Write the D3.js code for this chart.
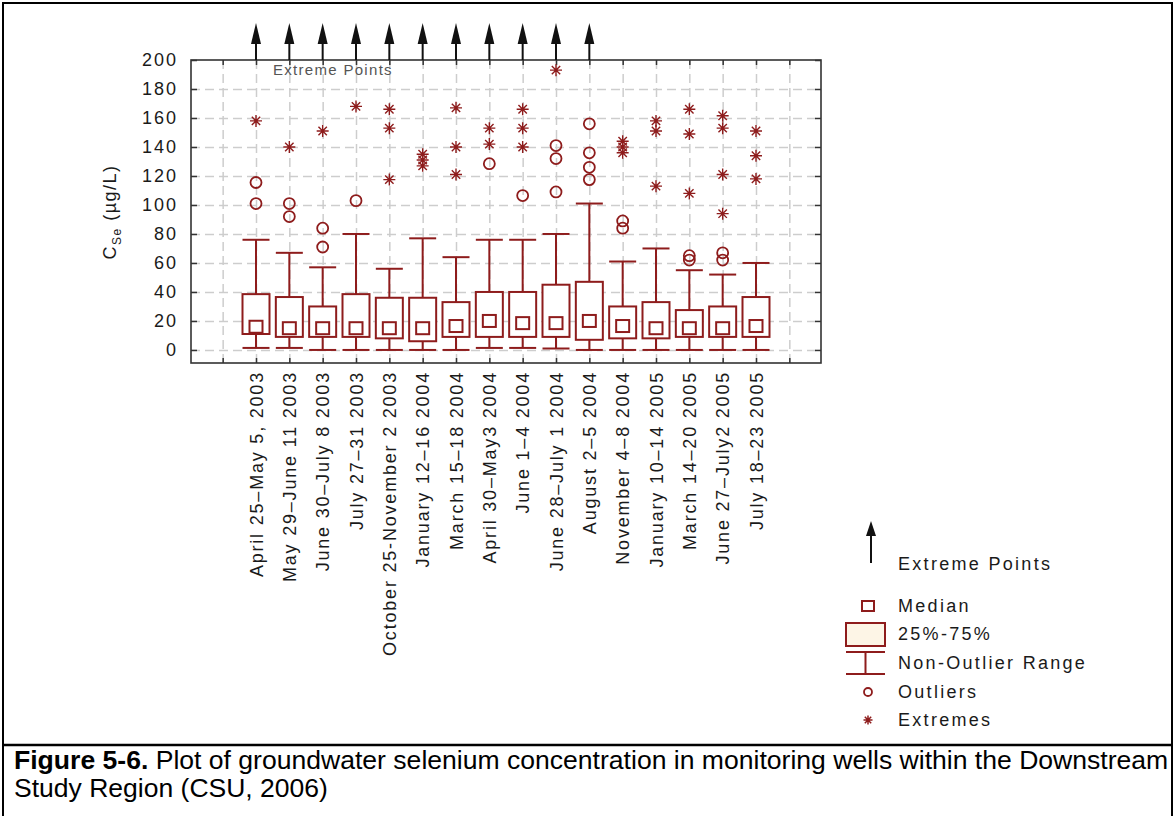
<!DOCTYPE html>
<html>
<head>
<meta charset="utf-8">
<script src="https://cdn.jsdelivr.net/npm/d3@7"></script>
<style>
  body { margin: 0; background: #fff; }
  text { font-family: "Liberation Sans", Arial, sans-serif; }
</style>
</head>
<body>
<script>
// sampling periods (x categories)
var categories = [
  "April 25–May 5, 2003", "May 29–June 11 2003", "June 30–July 8 2003",
  "July 27–31 2003", "October 25-November 2 2003", "January 12–16 2004",
  "March 15–18 2004", "April 30–May3 2004", "June 1–4 2004",
  "June 28–July 1 2004", "August 2–5 2004", "November 4–8 2004",
  "January 10–14 2005", "March 14–20 2005", "June 27–July2 2005",
  "July 18–23 2005"
];

// box plot statistics, Se in ug/L
var whiskerLow  = [1.4, 1.4, 0, 0, 0, 0, 0, 1.4, 1.4, 1, 0, 0, 0, 0, 0, 0];
var q1          = [11, 9, 9, 9, 8, 6, 9, 9, 9, 9, 7, 8, 8, 9, 9, 9];
var median      = [16, 15, 15, 15, 15, 15, 16.5, 20, 18.5, 18.5, 20, 16.5, 15, 15, 15, 16.5];
var q3          = [38.5, 36.5, 30, 38.5, 36, 36, 33, 40, 40, 45, 47, 30, 33, 27.5, 30, 36.5];
var whiskerHigh = [76, 67, 57, 80, 56, 77, 64, 76, 76, 80, 101, 61, 70, 55, 52, 60];

var outliers = [
  [115.5, 101], [101, 92], [84, 71], [103], [], [], [], [128.5], [106.5],
  [141, 132, 109], [156, 136, 126, 117.5], [89, 84], [], [65, 62], [67, 62], []
];
var extremes = [
  [158], [140], [151], [168], [166, 153, 117.5], [135, 131, 127],
  [167, 140, 121], [153, 142], [166, 153, 140], [193], [], [144, 140, 136],
  [158, 151, 113], [166, 149, 108], [161.5, 153, 121, 94], [151, 134, 118]
];
// periods with points beyond the top of the axis
var offScale = [1, 1, 1, 1, 1, 1, 1, 1, 1, 1, 1, 0, 0, 0, 0, 0];

var yTicks = [0, 20, 40, 60, 80, 100, 120, 140, 160, 180, 200];
var legendLabels = ["Extreme Points", "Median", "25%-75%", "Non-Outlier Range", "Outliers", "Extremes"];
var captionBold = "Figure 5-6.";
var captionRest = " Plot of groundwater selenium concentration in monitoring wells within the Downstream";
var captionLine2 = "Study Region (CSU, 2006)";

var width = 1175, height = 816;
var red = "#8e1c1c";
var plot = {left: 191, right: 821, top: 60, bottom: 363};
var boxW = 27;

var svg = d3.select("body").append("svg")
    .attr("width", width)
    .attr("height", height);

// outer figure border + caption rule
svg.append("rect")
    .attr("x", 3).attr("y", 3).attr("width", 1169).attr("height", 840)
    .attr("fill", "none").attr("stroke", "#000").attr("stroke-width", 2);
svg.append("line")
    .attr("x1", 3).attr("x2", 1172).attr("y1", 745).attr("y2", 745)
    .attr("stroke", "#000").attr("stroke-width", 2.5);

var x = d3.scaleLinear().domain([-0.95, 17.95]).range([plot.left, plot.right]);
var y = d3.scaleLinear().domain([-9, 200]).range([plot.bottom, plot.top]);
var slots = d3.range(18);

// dashed grid
svg.append("g")
    .attr("transform", "translate(" + plot.left + ",0)")
    .call(d3.axisLeft(y).tickValues(yTicks.slice(0, -1)).tickSize(-(plot.right - plot.left)).tickFormat(""))
    .call(function(g) { g.select(".domain").remove(); })
    .selectAll("line")
    .attr("stroke", "#cdcdcd").attr("stroke-width", 1.5).attr("stroke-dasharray", "9,5");

svg.append("g")
    .attr("transform", "translate(0," + plot.bottom + ")")
    .call(d3.axisBottom(x).tickValues(slots).tickSize(-(plot.bottom - plot.top)).tickFormat(""))
    .call(function(g) { g.select(".domain").remove(); })
    .selectAll("line")
    .attr("stroke", "#cdcdcd").attr("stroke-width", 1.5).attr("stroke-dasharray", "9,5");

// frame
svg.append("rect")
    .attr("x", plot.left).attr("y", plot.top)
    .attr("width", plot.right - plot.left).attr("height", plot.bottom - plot.top)
    .attr("fill", "none").attr("stroke", "#333").attr("stroke-width", 1.6);

// inward ticks on all four sides
var yAxis = svg.append("g")
    .attr("transform", "translate(" + plot.left + ",0)")
    .call(d3.axisLeft(y).tickValues(yTicks).tickSizeInner(-6).tickSizeOuter(0).tickPadding(13));
yAxis.select(".domain").remove();
yAxis.selectAll("line").attr("stroke", "#333").attr("stroke-width", 1.5);
yAxis.selectAll("text")
    .attr("font-size", 18).attr("fill", "#1a1a1a")
    .style("letter-spacing", "2px");

var rAxis = svg.append("g")
    .attr("transform", "translate(" + plot.right + ",0)")
    .call(d3.axisRight(y).tickValues(yTicks).tickSizeInner(-6).tickSizeOuter(0).tickFormat(""));
rAxis.select(".domain").remove();
rAxis.selectAll("line").attr("stroke", "#333").attr("stroke-width", 1.5);

var tAxis = svg.append("g")
    .attr("transform", "translate(0," + plot.top + ")")
    .call(d3.axisTop(x).tickValues(slots).tickSizeInner(-5).tickSizeOuter(0).tickFormat(""));
tAxis.select(".domain").remove();
tAxis.selectAll("line").attr("stroke", "#333").attr("stroke-width", 1.5);

var xAxis = svg.append("g")
    .attr("transform", "translate(0," + plot.bottom + ")")
    .call(d3.axisBottom(x).tickValues(slots).tickSizeInner(-5).tickSizeOuter(0)
      .tickFormat(function(i) { return categories[i - 1] || ""; }));
xAxis.select(".domain").remove();
xAxis.selectAll("line").attr("stroke", "#333").attr("stroke-width", 1.5);
xAxis.selectAll("text")
    .attr("transform", "rotate(-90)")
    .attr("text-anchor", "end")
    .attr("x", -8).attr("y", 0).attr("dy", "0.35em")
    .attr("font-size", 18).attr("fill", "#1a1a1a")
    .style("letter-spacing", "1.8px");

// y title
var yTitle = svg.append("text")
    .attr("transform", "translate(116,212) rotate(-90)")
    .attr("text-anchor", "middle")
    .attr("font-size", 18).attr("fill", "#1a1a1a")
    .style("letter-spacing", "1.5px");
yTitle.append("tspan").text("C");
yTitle.append("tspan").attr("dy", 5).attr("font-size", 12).text("Se");
yTitle.append("tspan").attr("dy", -5).text(" (µg/L)");

// boxes
var box = svg.append("g").selectAll("g")
    .data(categories)
  .enter().append("g")
    .attr("transform", function(d, i) { return "translate(" + x(i + 1) + ",0)"; })
    .attr("stroke", red).attr("stroke-width", 2).attr("fill", "none");

box.append("line")
    .attr("y1", function(d, i) { return y(whiskerLow[i]); })
    .attr("y2", function(d, i) { return y(q1[i]); });
box.append("line")
    .attr("y1", function(d, i) { return y(q3[i]); })
    .attr("y2", function(d, i) { return y(whiskerHigh[i]); });
box.append("line")
    .attr("x1", -boxW / 2).attr("x2", boxW / 2)
    .attr("y1", function(d, i) { return y(whiskerLow[i]); })
    .attr("y2", function(d, i) { return y(whiskerLow[i]); });
box.append("line")
    .attr("x1", -boxW / 2).attr("x2", boxW / 2)
    .attr("y1", function(d, i) { return y(whiskerHigh[i]); })
    .attr("y2", function(d, i) { return y(whiskerHigh[i]); });
box.append("rect")
    .attr("x", -boxW / 2).attr("width", boxW)
    .attr("y", function(d, i) { return y(q3[i]); })
    .attr("height", function(d, i) { return y(q1[i]) - y(q3[i]); })
    .attr("fill", "#fff");
box.append("rect")
    .attr("x", -6.5).attr("width", 13)
    .attr("y", function(d, i) { return y(median[i]) - 6; })
    .attr("height", 12)
    .attr("fill", "#fff");

box.selectAll("circle")
    .data(function(d, i) { return outliers[i]; })
  .enter().append("circle")
    .attr("cy", function(v) { return y(v); })
    .attr("r", 5.5)
    .attr("stroke-width", 1.8);

var star = "M-6,0H6M0,-6V6M-4.2,-4.2L4.2,4.2M-4.2,4.2L4.2,-4.2";
var starSmall = "M-4.5,0H4.5M0,-4.5V4.5M-3.2,-3.2L3.2,3.2M-3.2,3.2L3.2,-3.2";
box.selectAll("path.ext")
    .data(function(d, i) { return extremes[i]; })
  .enter().append("path")
    .attr("class", "ext")
    .attr("d", star)
    .attr("transform", function(v) { return "translate(0," + y(v) + ")"; })
    .attr("stroke-width", 1.4);

// arrows for values beyond the axis
function arrow(g, cx, tip, base, tail) {
  g.append("line")
      .attr("x1", cx).attr("x2", cx).attr("y1", tail).attr("y2", base - 2)
      .attr("stroke", "#111").attr("stroke-width", 2);
  g.append("path")
      .attr("d", "M" + cx + "," + tip + "L" + (cx - 5) + "," + base + "L" + (cx + 5) + "," + base + "Z")
      .attr("fill", "#111");
}
var arrows = svg.append("g");
categories.forEach(function(d, i) {
  if (offScale[i]) arrow(arrows, x(i + 1), 23, 44, plot.top);
});

svg.append("text")
    .attr("x", 273).attr("y", 75)
    .attr("font-size", 15).attr("fill", "#555")
    .style("letter-spacing", "1.3px")
    .text(legendLabels[0]);

// legend
var lg = svg.append("g");
arrow(lg, 871, 521, 536, 563);
var legendY = [564, 606, 634, 663, 692, 720];
lg.selectAll("text")
    .data(legendLabels)
  .enter().append("text")
    .attr("x", 898)
    .attr("y", function(d, i) { return legendY[i] + 6; })
    .attr("font-size", 18).attr("fill", "#1a1a1a")
    .style("letter-spacing", "2.3px")
    .text(function(d) { return d; });

lg.append("rect")
    .attr("x", 862).attr("y", 601).attr("width", 12).attr("height", 10)
    .attr("fill", "#fff").attr("stroke", red).attr("stroke-width", 2);
lg.append("rect")
    .attr("x", 846).attr("y", 623).attr("width", 39).attr("height", 23)
    .attr("fill", "#fdf5e6").attr("stroke", red).attr("stroke-width", 2);
lg.append("path")
    .attr("d", "M846,652H885M865.5,652V674M846,674H885")
    .attr("fill", "none").attr("stroke", red).attr("stroke-width", 2);
lg.append("circle")
    .attr("cx", 868).attr("cy", 692).attr("r", 4)
    .attr("fill", "none").attr("stroke", red).attr("stroke-width", 1.8);
lg.append("path")
    .attr("d", starSmall)
    .attr("transform", "translate(868,720)")
    .attr("stroke", red).attr("stroke-width", 1.5);

// caption, squeezed to the measured line widths (narrow face)
function fitLine(node, x0, baseline, target) {
  var w = node.node().getComputedTextLength();
  node.attr("transform", "translate(" + x0 + "," + baseline + ") scale(" + (target / w) + ",1)");
}
var cap1 = svg.append("text")
    .attr("font-size", 25).attr("fill", "#000");
cap1.append("tspan").attr("font-weight", "bold").text(captionBold);
cap1.append("tspan").text(captionRest);
fitLine(cap1, 14, 769, 1155);

var cap2 = svg.append("text")
    .attr("font-size", 25).attr("fill", "#000")
    .text(captionLine2);
fitLine(cap2, 14, 797, 314);
</script>
</body>
</html>
